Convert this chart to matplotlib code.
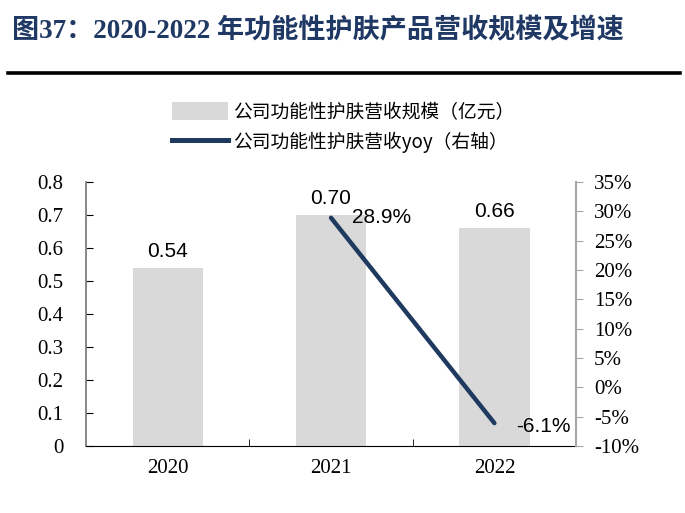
import numpy as np
import matplotlib
matplotlib.use("Agg")
import matplotlib.pyplot as plt
from matplotlib.lines import Line2D
from matplotlib.patches import Patch

plt.rcParams['font.family'] = ['Liberation Serif', 'Noto Sans CJK SC', 'DejaVu Sans']

# 数据
years = ["2020", "2021", "2022"]
revenue = [0.54, 0.70, 0.66]          # 亿元
yoy_years = ["2021", "2022"]
yoy = [28.9, -6.1]                     # %

bar_color = "#d9d9d9"
line_color = "#1f3a5f"
title_color = "#1f3864"

fig = plt.figure(figsize=(6.85, 5.13), dpi=100)

# 标题
fig.text(0.018, 0.938, "图37：2020-2022 年功能性护肤产品营收规模及增速",
         fontsize=19.5, fontweight='bold', color=title_color,
         family=['Liberation Serif', 'Noto Sans CJK SC'], va='center', ha='left')
fig.add_artist(Line2D([0.012, 0.993], [0.857, 0.857], color='black', lw=2.6,
                      transform=fig.transFigure))

ax = fig.add_axes([0.1255, 0.1306, 0.7155, 0.5146])
x = np.arange(len(years))
ax.bar(x, revenue, width=0.43, color=bar_color, zorder=1)
for xi, v in zip(x, revenue):
    ax.text(xi, v + 0.022, f"{v:.2f}", ha='center', va='bottom', fontsize=15,
            family='Liberation Sans')

ax.set_xlim(-0.5, 2.5)
ax.set_ylim(0, 0.8)
ax.set_yticks(np.arange(0, 0.81, 0.1))
ax.set_yticklabels(["0"] + [f"{v:.1f}" for v in np.arange(0.1, 0.81, 0.1)], fontsize=15)
ax.set_xticks(x)
ax.set_xticklabels(years, fontsize=15)
ax.set_xticks([0.5, 1.5, 2.5], minor=True)
ax.tick_params(axis='x', which='major', length=0, pad=9)
ax.tick_params(axis='x', which='minor', direction='in', length=5, color='black')
ax.tick_params(axis='y', direction='in', length=5, color='black', pad=16)
ax.spines['top'].set_visible(False)
ax.spines['right'].set_visible(False)
ax.spines['left'].set_color('#808080')
ax.spines['left'].set_linewidth(1.3)
ax.spines['bottom'].set_color('black')

ax2 = ax.twinx()
xi_yoy = [years.index(y) for y in yoy_years]
ax2.plot(xi_yoy, yoy, color=line_color, lw=3.2, solid_capstyle='round', zorder=3)
ax2.text(xi_yoy[0] + 0.13, yoy[0], f"{yoy[0]:.1f}%", ha='left', va='center',
         fontsize=15, family='Liberation Sans')
ax2.text(xi_yoy[1] + 0.13, yoy[1] - 0.6, f"{yoy[1]:.1f}%", ha='left', va='center',
         fontsize=15, family='Liberation Sans')
ax2.set_ylim(-10, 35)
ax2.set_yticks(np.arange(-10, 36, 5))
ax2.set_yticklabels([f"{v}%" for v in range(-10, 36, 5)], fontsize=15)
ax2.tick_params(axis='y', direction='out', length=5, color='#a6a6a6', pad=8)
for s in ['top', 'left', 'bottom']:
    ax2.spines[s].set_visible(False)
ax2.spines['right'].set_color('#a6a6a6')
ax2.spines['right'].set_linewidth(1.5)

handles = [Patch(facecolor=bar_color, edgecolor='none'),
           Line2D([0], [0], color=line_color, lw=3.6)]
labels = ["公司功能性护肤营收规模（亿元）", "公司功能性护肤营收yoy（右轴）"]
fig.legend(handles, labels, loc='center left', bbox_to_anchor=(0.226, 0.752),
           frameon=False, handlelength=3.0, handletextpad=0.25, handleheight=1.1,
           labelspacing=0.45, prop={'family': ['Noto Sans CJK SC', 'DejaVu Sans'], 'size': 13.5})

fig.savefig("out.png", dpi=100)
